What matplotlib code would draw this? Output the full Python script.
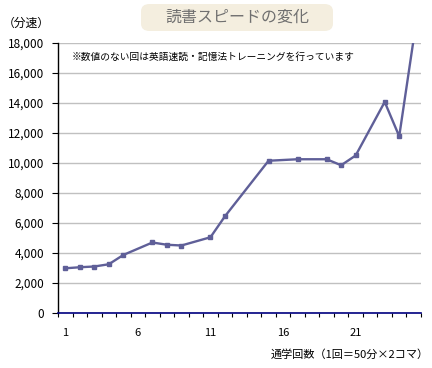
import matplotlib
matplotlib.use("Agg")
import matplotlib.pyplot as plt
from matplotlib.patches import FancyBboxPatch
from matplotlib.ticker import FuncFormatter, MultipleLocator, FixedLocator

plt.rcParams['font.family'] = ['Noto Sans CJK JP', 'DejaVu Sans']

rounds = [1, 2, 3, 4, 5, 7, 8, 9, 11, 12, 15, 17, 19, 20, 21, 23, 24, 25]
speed = [2980, 3050, 3100, 3250, 3870, 4700, 4550, 4500, 5050, 6450,
         10150, 10250, 10250, 9850, 10500, 14070, 11780, 18300]
n_rounds = 25
x_labels = [1, 6, 11, 16, 21]

title = "読書スピードの変化"
note = "※数値のない回は英語速読・記憶法トレーニングを行っています"
ylabel = "（分速）"
xlabel = "通学回数（1回＝50分×2コマ）"

fig = plt.figure(figsize=(4.32, 3.68), dpi=100)
ax = fig.add_axes([58/432, 1-313/368, 363/432, 270/368])

line_color = '#5f5f98'
ax.plot(rounds, speed, color=line_color, lw=1.7, marker='s', ms=3.5,
        markerfacecolor=line_color, markeredgecolor=line_color, clip_on=True)

ax.set_xlim(0.5, n_rounds + 0.5)
ax.set_ylim(0, 18000)
ax.yaxis.set_major_locator(MultipleLocator(2000))
ax.yaxis.set_major_formatter(FuncFormatter(lambda v, p: f"{int(v):,}"))
ax.grid(axis='y', color='#c0c0c0', lw=1)
ax.set_axisbelow(True)

ax.xaxis.set_major_locator(FixedLocator(x_labels))
ax.xaxis.set_minor_locator(FixedLocator([i + 0.5 for i in range(n_rounds + 1)]))
ax.tick_params(axis='x', which='major', length=0, pad=11, labelsize=8)
ax.tick_params(axis='x', which='minor', length=3, width=0.8, color='black', direction='out')
ax.tick_params(axis='y', length=4, width=0.8, direction='out', labelsize=8.5, pad=6)

for s in ['top', 'right']:
    ax.spines[s].set_visible(False)
ax.spines['left'].set_color('black')
ax.spines['left'].set_linewidth(1)
ax.spines['bottom'].set_color('#000080')
ax.spines['bottom'].set_linewidth(1.2)

ax.text(72/432, 1-57/368, note, transform=fig.transFigure, fontsize=7,
        va='center', ha='left', color='black')

box = FancyBboxPatch((141/432, 1-31/368), (333-141)/432, 27/368,
                     boxstyle="round,pad=0,rounding_size=0.02",
                     transform=fig.transFigure, facecolor='#f4eedf',
                     edgecolor='none')
fig.patches.append(box)
fig.text(237/432, 1-17/368, title, fontsize=11.5, color='#707070',
         ha='center', va='center')

fig.text(3/432, 1-23/368, ylabel, fontsize=8.5, ha='left', va='center')
fig.text(429/432, 1-355/368, xlabel, fontsize=8, ha='right', va='center')

fig.savefig('out.png', dpi=100)
